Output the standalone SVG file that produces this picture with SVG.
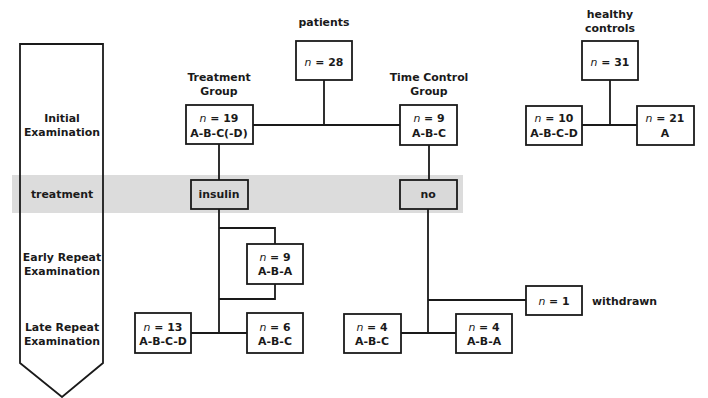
<svg xmlns="http://www.w3.org/2000/svg" width="708" height="398" viewBox="0 0 708 398">
<style>
text{font-family:"DejaVu Sans","Verdana",sans-serif;font-weight:bold;font-size:10.9px;fill:#1a1a1a;text-anchor:middle}
.b{fill:#fff;stroke:#1a1a1a;stroke-width:1.8}
.g{fill:#d9d9d9;stroke:#1a1a1a;stroke-width:1.8}
.c{fill:none;stroke:#1a1a1a;stroke-width:1.8}
.i{font-style:italic;font-weight:normal}
</style>
<rect x="12" y="175" width="451" height="38" fill="#dcdcdc"/>
<g id="timeline">
<path d="M20,44 H103 V363 L62,397 L20,363 Z" fill="none" stroke="#1a1a1a" stroke-width="1.8"/>
<text x="62" y="122">Initial</text>
<text x="62" y="136">Examination</text>
<text x="62" y="198">treatment</text>
<text x="62" y="261">Early Repeat</text>
<text x="62" y="275">Examination</text>
<text x="62" y="331">Late Repeat</text>
<text x="62" y="345">Examination</text>
</g>
<g id="connectors">
<path class="c" d="M324,80 V125 M253,125 H400"/>
<path class="c" d="M610,80 V125 M582,125 H637"/>
<path class="c" d="M219,144 V180 M429,145 V180"/>
<path class="c" d="M219,209 V333 M219,228 H275 V244 M275,284 V299 H219 M191,333 H247"/>
<path class="c" d="M428,209 V333 M428,300 H526 M401,333 H456"/>
</g>
<g id="patients">
<text x="324" y="26">patients</text>
<rect class="b" x="296" y="41" width="56" height="39"/>
<text x="324" y="66"><tspan class="i">n</tspan> = 28</text>
</g>
<g id="healthy">
<text x="610" y="18">healthy</text>
<text x="610" y="32">controls</text>
<rect class="b" x="582" y="41" width="56" height="39"/>
<text x="610" y="66"><tspan class="i">n</tspan> = 31</text>
</g>
<g id="treatmentGroup">
<text x="219" y="81">Treatment</text>
<text x="219" y="95">Group</text>
<rect class="b" x="186" y="105" width="67" height="39"/>
<text x="219" y="122"><tspan class="i">n</tspan> = 19</text>
<text x="219" y="137">A-B-C(-D)</text>
</g>
<g id="timeControl">
<text x="429" y="81">Time Control</text>
<text x="429" y="95">Group</text>
<rect class="b" x="400" y="105" width="57" height="40"/>
<text x="429" y="122"><tspan class="i">n</tspan> = 9</text>
<text x="429" y="137">A-B-C</text>
</g>
<g id="hc10">
<rect class="b" x="526" y="106" width="56" height="39"/>
<text x="554" y="122"><tspan class="i">n</tspan> = 10</text>
<text x="554" y="137">A-B-C-D</text>
</g>
<g id="hc21">
<rect class="b" x="637" y="106" width="57" height="39"/>
<text x="665" y="122"><tspan class="i">n</tspan> = 21</text>
<text x="665" y="137">A</text>
</g>
<g id="insulin">
<rect class="g" x="191" y="180" width="57" height="29"/>
<text x="219" y="198">insulin</text>
</g>
<g id="no">
<rect class="g" x="400" y="180" width="57" height="29"/>
<text x="428" y="198">no</text>
</g>
<g id="early9">
<rect class="b" x="247" y="244" width="56" height="40"/>
<text x="275" y="261"><tspan class="i">n</tspan> = 9</text>
<text x="275" y="275">A-B-A</text>
</g>
<g id="late13">
<rect class="b" x="135" y="313" width="56" height="40"/>
<text x="163" y="331"><tspan class="i">n</tspan> = 13</text>
<text x="163" y="345">A-B-C-D</text>
</g>
<g id="late6">
<rect class="b" x="247" y="313" width="56" height="40"/>
<text x="275" y="331"><tspan class="i">n</tspan> = 6</text>
<text x="275" y="345">A-B-C</text>
</g>
<g id="withdrawn">
<rect class="b" x="526" y="286" width="56" height="29"/>
<text x="554" y="305"><tspan class="i">n</tspan> = 1</text>
<text x="592" y="305" style="text-anchor:start">withdrawn</text>
</g>
<g id="late4a">
<rect class="b" x="344" y="314" width="57" height="39"/>
<text x="372" y="331"><tspan class="i">n</tspan> = 4</text>
<text x="372" y="345">A-B-C</text>
</g>
<g id="late4b">
<rect class="b" x="456" y="314" width="56" height="39"/>
<text x="484" y="331"><tspan class="i">n</tspan> = 4</text>
<text x="484" y="345">A-B-A</text>
</g>
</svg>
